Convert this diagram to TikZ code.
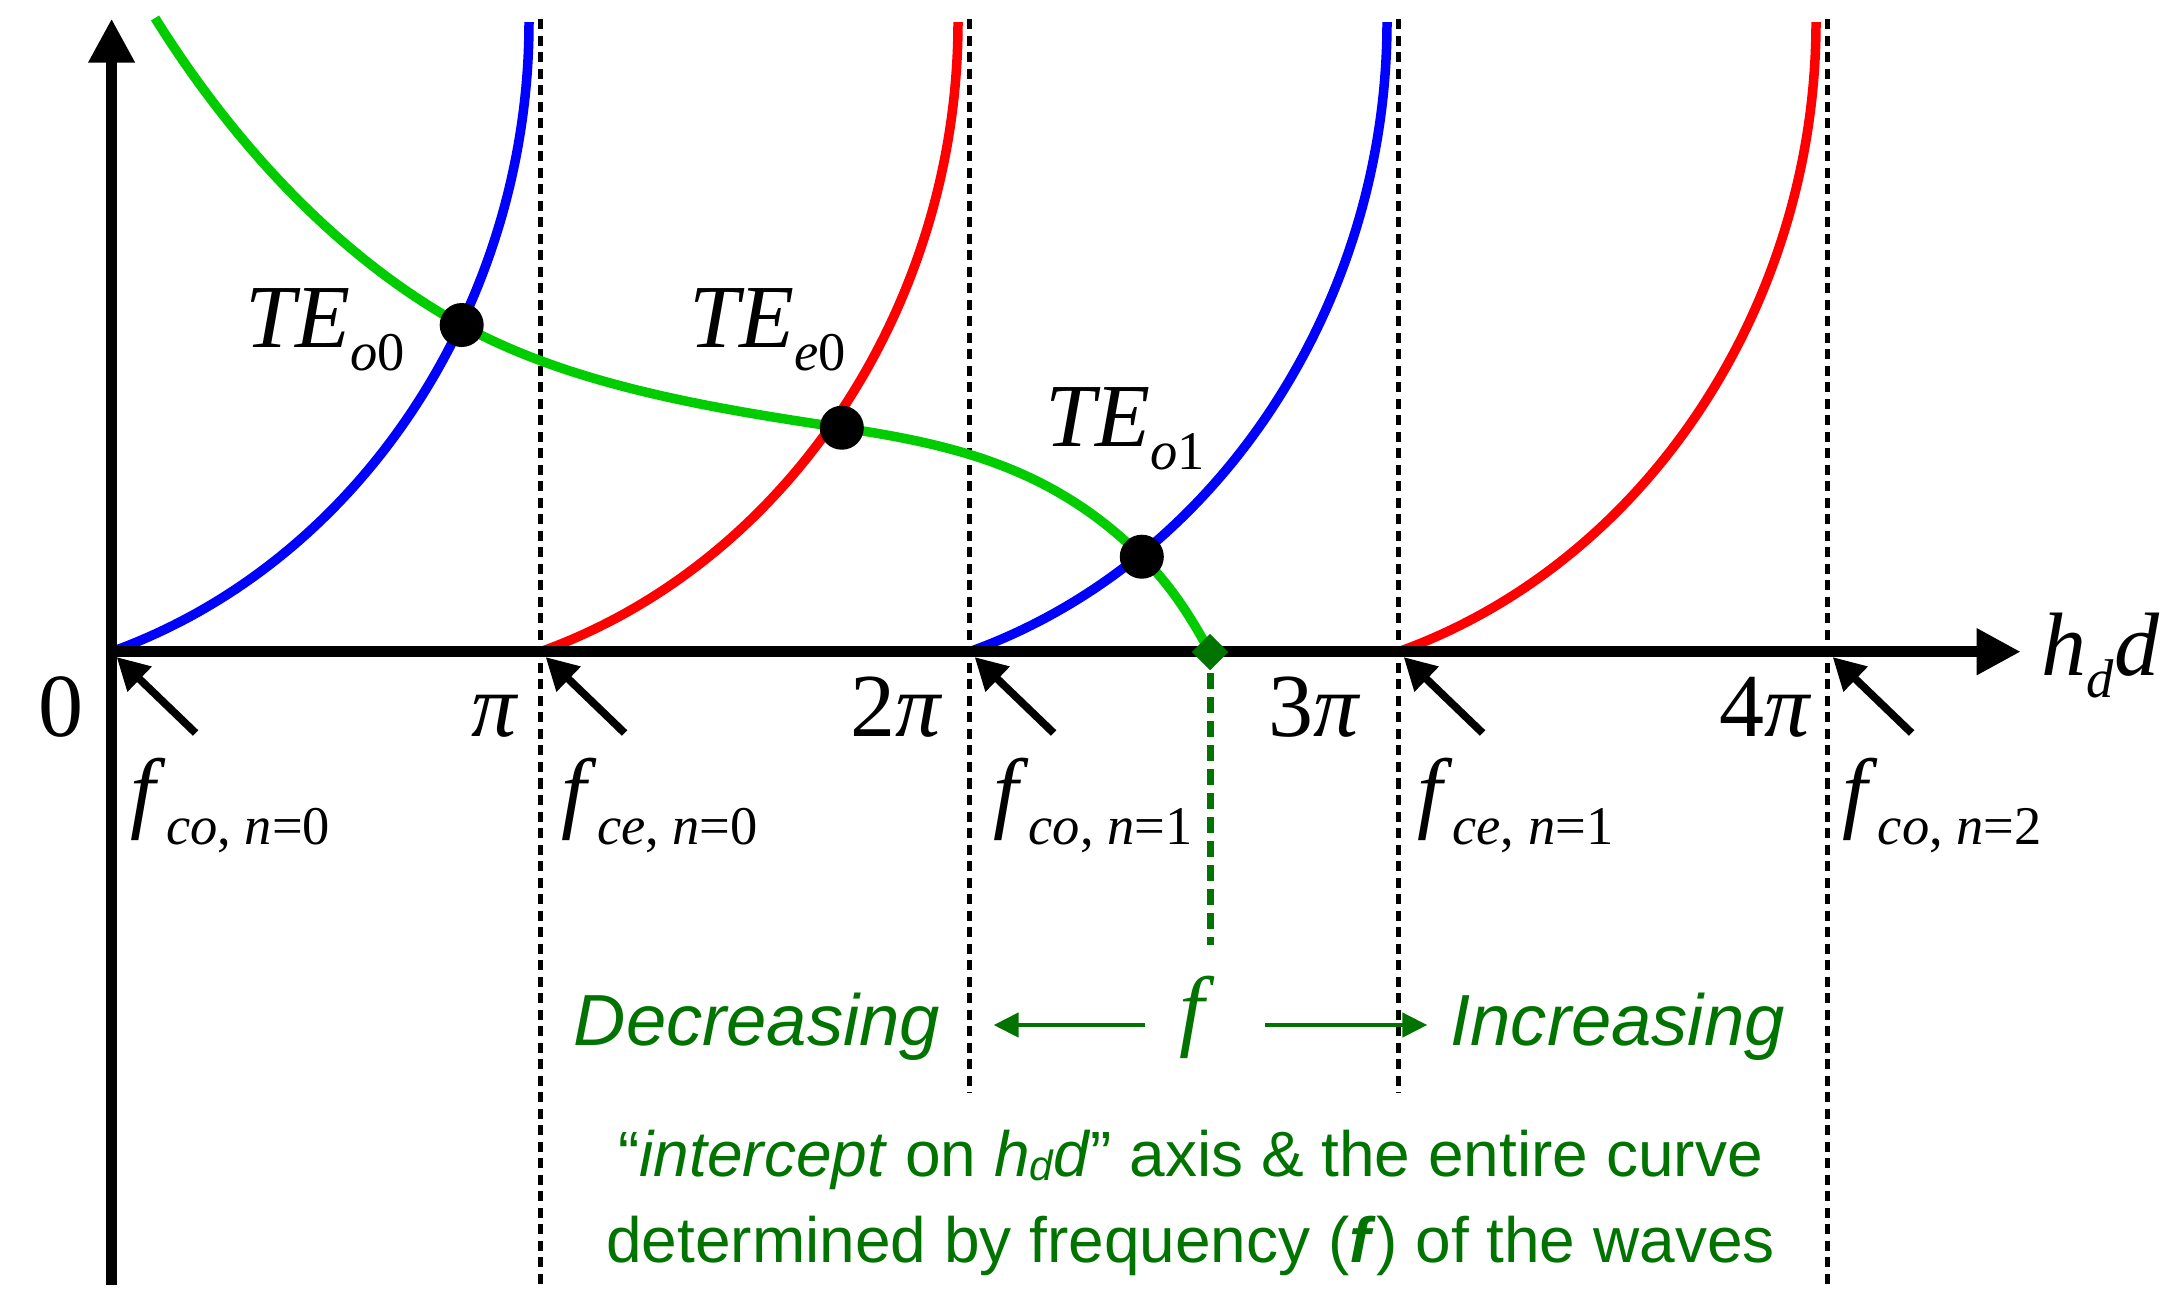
\documentclass[tikz,border=0pt]{standalone}
\usepackage{fontspec}
\setmainfont{Liberation Serif}
\setsansfont{Liberation Sans}
\usetikzlibrary{arrows.meta,shapes.geometric}
\definecolor{dgreen}{RGB}{0,115,0}
\definecolor{lgreen}{RGB}{0,204,0}
\newcommand\bigf{\fontsize{25.6}{30}\selectfont}
\newcommand\smallf{\fontsize{15.5}{18}\selectfont}
\newcommand\subs[2][6.6pt]{\raisebox{-#1}{\smallf #2}}
\begin{document}
\begin{tikzpicture}[x=0.01cm,y=-0.01cm,
  axis/.style={line width=3.0pt,-{Triangle[length=0.44cm,width=0.44cm]}},
  guide/.style={line width=1.5pt,dash pattern=on 0.1cm off 0.065cm},
  mode/.style={line width=2.7pt},
  cutoff/.style={line width=2.2pt,-{Triangle[length=0.32cm,width=0.33cm]}},
  freqarrow/.style={dgreen,line width=1.3pt,-{Triangle[length=0.25cm,width=0.24cm]}},
  dot/.style={circle,fill=black,inner sep=0pt,minimum size=0.44cm},
  lbl/.style={inner sep=0pt,font=\bigf},
  gtext/.style={inner sep=0pt,text=dgreen,font=\sffamily\itshape\fontsize{20.6}{24}\selectfont},
  note/.style={inner sep=0pt,text=dgreen,font=\sffamily\fontsize{18.2}{22}\selectfont}]
\useasboundingbox (0,0) rectangle (2179,1296);

% guide lines at multiples of pi
\coordinate (g1t) at (540.6,19); \coordinate (g1b) at (540.6,1285);
\coordinate (g2t) at (969.6,19); \coordinate (g2b) at (969.6,1093);
\coordinate (g3t) at (1398.6,19); \coordinate (g3b) at (1398.6,1093);
\coordinate (g4t) at (1827.6,19); \coordinate (g4b) at (1827.6,1285);
\draw[guide] (g1t) -- (g1b);
\draw[guide] (g2t) -- (g2b);
\draw[guide] (g3t) -- (g3b);
\draw[guide] (g4t) -- (g4b);

% mode curves
\coordinate (c0) at (111.6,651.7);  \coordinate (e0) at (529.0,22);
\coordinate (c1) at (540.6,651.7);  \coordinate (e1) at (958.0,22);
\coordinate (c2) at (969.6,651.7);  \coordinate (e2) at (1387.0,22);
\coordinate (c3) at (1398.6,651.7); \coordinate (e3) at (1816.0,22);
\draw[mode,blue] (c0) .. controls +(250,-90) and +(0,280) .. (e0);
\draw[mode,red]  (c1) .. controls +(250,-90) and +(0,280) .. (e1);
\draw[mode,blue] (c2) .. controls +(250,-90) and +(0,280) .. (e2);
\draw[mode,red]  (c3) .. controls +(250,-90) and +(0,280) .. (e3);

% intersection points and intercept
\coordinate (p1) at (461.7,325);
\coordinate (p2) at (841.8,427.7);
\coordinate (p3) at (1141.8,556.7);
\coordinate (gs) at (155,18);
\coordinate (pf) at (1210,652);

% frequency curve
\draw[mode,lgreen] (gs) .. controls (228,135) and (331.7,253.5) .. (p1)
  .. controls (571.7,385.5) and (711.8,408.2) .. (p2)
  .. controls (951.8,444.2) and (1051.8,466.7) .. (p3)
  .. controls (1171.8,586.7) and (1190,616) .. (pf);

% axes
\coordinate (ybot) at (111.6,1285);
\coordinate (ytop) at (111.6,18.7);
\coordinate (xstart) at (106.4,651.7);
\coordinate (xend) at (2020.7,651.7);
\draw[axis] (ybot) -- (ytop);
\draw[axis] (xstart) -- (xend);

% intersection dots
\node[dot] (d1) at (p1) {};
\node[dot] (d2) at (p2) {};
\node[dot] (d3) at (p3) {};

% mode labels
\node[lbl,anchor=base west] (l1) at (244.6,347.3) {\textit{TE}\subs{\textit{o}0}};
\node[lbl,anchor=base west] (l2) at (688.8,347.7) {\textit{TE}\subs{\textit{e}0}};
\node[lbl,anchor=base west] (l3) at (1044.9,446) {\textit{TE}\subs{\textit{o}1}};

% tick labels
\node[lbl,anchor=base east] (t0) at (84,736) {0};
\node[lbl,anchor=base east] (t1) at (519,736) {\textit{π}};
\node[lbl,anchor=base east] (t2) at (943.5,736) {2\textit{π}};
\node[lbl,anchor=base east] (t3) at (1361.5,736) {3\textit{π}};
\node[lbl,anchor=base east] (t4) at (1812,736) {4\textit{π}};
\node[lbl,anchor=base west] (xl) at (2041,675) {\textit{h}\subs[6.3pt]{\textit{d}}\textit{d}};

% cutoff arrows
\coordinate (a0s) at (195.6,733); \coordinate (a0e) at (116.6,657);
\coordinate (a1s) at (624.6,733); \coordinate (a1e) at (545.6,657);
\coordinate (a2s) at (1053.6,733); \coordinate (a2e) at (974.6,657);
\coordinate (a3s) at (1482.6,733); \coordinate (a3e) at (1403.6,657);
\coordinate (a4s) at (1911.6,733); \coordinate (a4e) at (1832.6,657);
\draw[cutoff] (a0s) -- (a0e);
\draw[cutoff] (a1s) -- (a1e);
\draw[cutoff] (a2s) -- (a2e);
\draw[cutoff] (a3s) -- (a3e);
\draw[cutoff] (a4s) -- (a4e);

% cutoff labels
\node[lbl,anchor=base west] (f0) at (130,821) {\textit{f}\subs[6.8pt]{\textit{co}, \textit{n}=0}};
\node[lbl,anchor=base west] (f1) at (561,821) {\textit{f}\subs[6.8pt]{\textit{ce}, \textit{n}=0}};
\node[lbl,anchor=base west] (f2) at (992.6,821) {\textit{f}\subs[6.8pt]{\textit{co}, \textit{n}=1}};
\node[lbl,anchor=base west] (f3) at (1416.5,821) {\textit{f}\subs[6.8pt]{\textit{ce}, \textit{n}=1}};
\node[lbl,anchor=base west] (f4) at (1841.8,821) {\textit{f}\subs[6.8pt]{\textit{co}, \textit{n}=2}};

% intercept marker and dashed drop line
\node[diamond,fill=dgreen,inner sep=0pt,minimum width=0.37cm,minimum height=0.37cm] (fd) at (pf) {};
\coordinate (fds) at (1210,673);
\coordinate (fde) at (1210,945);
\draw[dgreen,line width=2pt,dash pattern=on 0.16cm off 0.08cm] (fds) -- (fde);

% frequency direction
\node[lbl,anchor=base,text=dgreen] (ff) at (1197,1039) {\textit{f}};
\coordinate (la) at (1145,1025); \coordinate (lb) at (993.6,1025);
\coordinate (ra) at (1264.8,1025); \coordinate (rb) at (1427.3,1025);
\draw[freqarrow] (la) -- (lb);
\draw[freqarrow] (ra) -- (rb);
\node[gtext,anchor=base west] (dec) at (573,1045) {Decreasing};
\node[gtext,anchor=base west] (inc) at (1449.7,1045) {Increasing};

% note
\node[note,anchor=base] (n1) at (1190.5,1176) {“\textit{intercept} on \textit{h\raisebox{-1.2pt}{\fontsize{12}{12}\selectfont d}d}” axis \& the entire curve};
\node[note,anchor=base] (n2) at (1190.5,1262) {determined by frequency (\textbf{\textit{f}}) of the waves};
\end{tikzpicture}
\end{document}
